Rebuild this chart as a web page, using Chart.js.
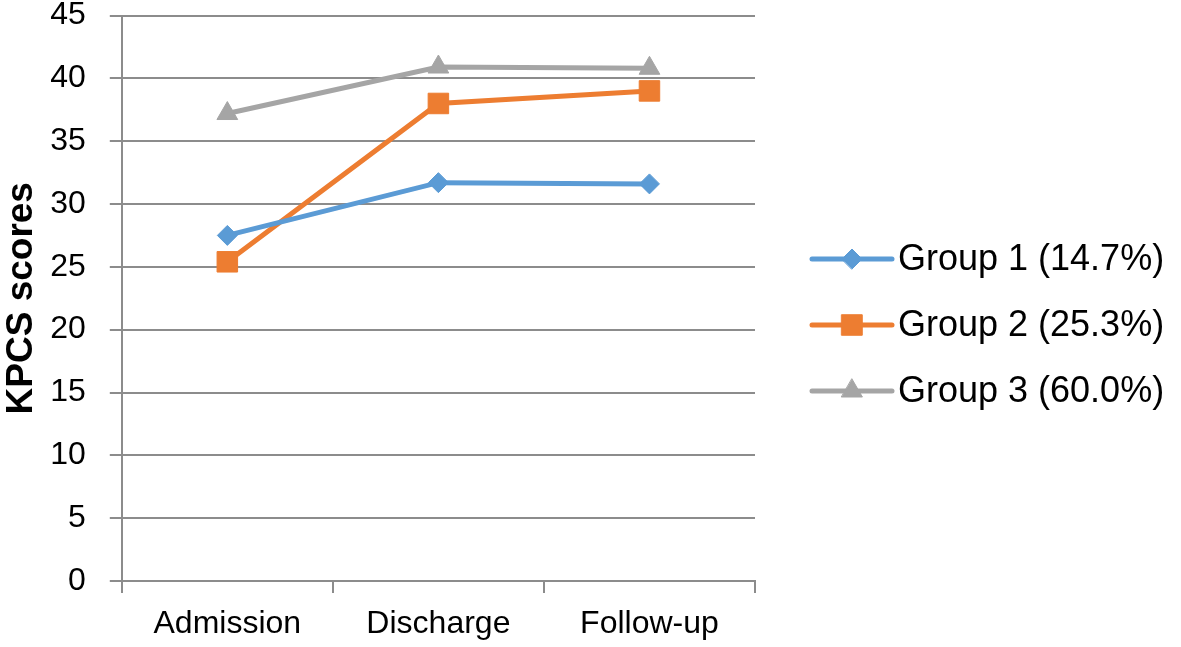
<!DOCTYPE html>
<html>
<head>
<meta charset="utf-8">
<style>
  html, body { margin: 0; padding: 0; background: #fff; }
  canvas { display: block; }
</style>
<script src="https://cdn.jsdelivr.net/npm/chart.js@4/dist/chart.umd.min.js"></script>
</head>
<body>
<canvas id="kpcsChart" width="1181" height="647"></canvas>
<script>
const categories = ['Admission', 'Discharge', 'Follow-up'];
const seriesNames = ['Group 1 (14.7%)', 'Group 2 (25.3%)', 'Group 3 (60.0%)'];
const group1 = [27.5, 31.7, 31.6];
const group2 = [25.4, 38.0, 39.0];
const group3 = [37.2, 40.9, 40.8];
const yTicks = { min: 0, max: 45, step: 5 };

const colors = ['#5b9bd5', '#ed7d31', '#a5a5a5'];
const styles = [
  { pointStyle: 'rectRot', radius: 10 },
  { pointStyle: 'rect', radius: 14.5 },
  { pointStyle: 'triangle', radius: 12 },
];
const FONT = "'Liberation Sans', Arial, sans-serif";
const GRID = '#8c8c8c';

// legend drawn as line + marker + label, to the right of the plot
const lineLegend = {
  id: 'lineLegend',
  afterDraw(chart) {
    const ctx = chart.ctx;
    const x0 = 812, x1 = 892, rows = [259, 325, 391];
    chart.data.datasets.forEach((ds, i) => {
      const y = rows[i];
      ctx.save();
      ctx.strokeStyle = ds.borderColor;
      ctx.lineWidth = 5;
      ctx.lineCap = 'round';
      ctx.beginPath();
      ctx.moveTo(x0, y);
      ctx.lineTo(x1, y);
      ctx.stroke();
      ctx.fillStyle = ds.borderColor;
      ctx.strokeStyle = ds.borderColor;
      ctx.lineWidth = 1;
      Chart.helpers.drawPoint(ctx, { pointStyle: ds.pointStyle, radius: ds.pointRadius, rotation: 0, borderWidth: 1 }, (x0 + x1) / 2, y);
      ctx.fillStyle = '#000';
      ctx.font = '36px ' + FONT;
      ctx.textBaseline = 'middle';
      ctx.textAlign = 'left';
      ctx.fillText(ds.label, 898, y + 1);
      ctx.restore();
    });
  }
};

new Chart(document.getElementById('kpcsChart'), {
  type: 'line',
  data: {
    labels: categories,
    datasets: [group1, group2, group3].map((values, i) => ({
      label: seriesNames[i],
      data: values,
      borderColor: colors[i],
      backgroundColor: colors[i],
      borderWidth: 5,
      pointStyle: styles[i].pointStyle,
      pointRadius: styles[i].radius,
      pointHoverRadius: styles[i].radius,
      pointBorderWidth: 1,
      tension: 0,
    })),
  },
  options: {
    responsive: false,
    animation: false,
    layout: { padding: { left: 0, right: 426, top: 0, bottom: 0 } },
    plugins: { legend: { display: false }, tooltip: { enabled: false } },
    scales: {
      x: {
        offset: true,
        afterFit: (scale) => { scale.height = 66; },
        grid: { offset: true, drawOnChartArea: false, drawTicks: true, tickLength: 12, color: GRID, lineWidth: 2 },
        border: { color: GRID, width: 2 },
        ticks: { color: '#000', padding: 15, font: { family: FONT, size: 32, lineHeight: 1 } },
      },
      y: {
        min: yTicks.min,
        max: yTicks.max,
        afterFit: (scale) => { scale.paddingTop = 13; },
        grid: { color: GRID, lineWidth: 2, tickLength: 12 },
        border: { color: GRID, width: 2 },
        ticks: { stepSize: yTicks.step, color: '#000', padding: 24, font: { family: FONT, size: 32, lineHeight: 0.8 } },
        title: {
          display: true,
          text: 'KPCS scores',
          color: '#000',
          padding: { top: 20, bottom: 2.5 },
          font: { family: FONT, size: 37, weight: 'bold', lineHeight: 0.1 },
        },
      },
    },
  },
  plugins: [lineLegend],
});
</script>
</body>
</html>
